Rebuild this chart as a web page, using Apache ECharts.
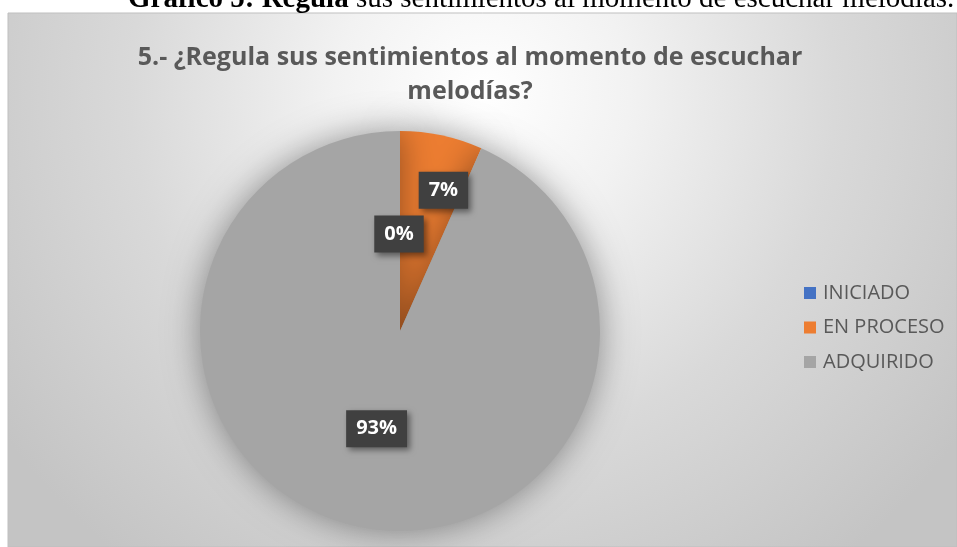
<!DOCTYPE html>
<html>
<head>
<meta charset="utf-8">
<script src="https://cdn.jsdelivr.net/npm/echarts@6/dist/echarts.min.js"></script>
<style>
  html, body { margin: 0; padding: 0; background: #ffffff; }
  #chart { width: 957px; height: 547px; }
</style>
</head>
<body>
<div id="chart"></div>
<script>
// datos del gráfico
const categories = ['INICIADO', 'EN PROCESO', 'ADQUIRIDO']
const counts = [0, 2, 28]
const colors = ['#4472C4', '#ED7D31', '#A5A5A5']

const chartInst = echarts.init(document.getElementById('chart'))

// ajuste fino de las etiquetas para que queden como en Excel
const labelOffsets = [[-1, 6], [22, -40], [-2, -3]]

const pieData = categories.map((name, i) => ({
  name: name,
  value: counts[i],
  itemStyle: { color: colors[i] },
  label: { offset: labelOffsets[i] }
}))

const option = {
  animation: false,
  backgroundColor: '#ffffff',
  graphic: {
    elements: [
      {
        type: 'rect',
        z: -100,
        shape: { x: 8, y: 13, width: 949, height: 534 },
        style: {
          fill: {
            type: 'radial',
            x: 0.5,
            y: 0.15,
            r: 1.1,
            colorStops: [
              { offset: 0, color: '#ffffff' },
              { offset: 0.25, color: '#f2f2f2' },
              { offset: 0.6, color: '#d9d9d9' },
              { offset: 1, color: '#c4c4c4' }
            ]
          },
          stroke: '#bfbfbf',
          lineWidth: 1
        }
      },
      {
        type: 'text',
        z: 10,
        x: 128,
        y: 14,
        style: {
          text: '{b|Gráfico 5: Regula} sus sentimientos al momento de escuchar melodías.',
          font: '29px "Liberation Serif"',
          fill: '#000000',
          verticalAlign: 'bottom',
          rich: {
            b: { fontWeight: 'bold', fontSize: 29, fontFamily: 'Liberation Serif' }
          }
        }
      }
    ]
  },
  title: {
    text: '5.- ¿Regula sus sentimientos al momento de escuchar\nmelodías?',
    left: 465,
    top: 36,
    textAlign: 'center',
    textStyle: {
      fontFamily: 'Open Sans',
      fontWeight: 'bold',
      fontSize: 25,
      lineHeight: 34,
      color: '#595959'
    }
  },
  legend: {
    orient: 'vertical',
    left: 799,
    top: 278,
    icon: 'rect',
    itemWidth: 12,
    itemHeight: 12,
    itemGap: 14.5,
    data: categories,
    textStyle: {
      fontFamily: 'Open Sans',
      fontSize: 20,
      lineHeight: 20,
      color: '#595959',
      padding: [0, 0, 0, 2]
    }
  },
  series: [
    {
      type: 'pie',
      center: [400, 331],
      radius: 200,
      startAngle: 90,
      clockwise: true,
      silent: true,
      percentPrecision: 0,
      itemStyle: {
        shadowBlur: 35,
        shadowColor: 'rgba(0,0,0,0.4)'
      },
      label: {
        show: true,
        position: 'inside',
        formatter: '{d}%',
        color: '#ffffff',
        fontFamily: 'Open Sans',
        fontWeight: 'bold',
        fontSize: 20,
        backgroundColor: '#404040',
        padding: [9, 10, 8, 10],
        shadowBlur: 6,
        shadowOffsetX: 3,
        shadowOffsetY: 3,
        shadowColor: 'rgba(0,0,0,0.45)'
      },
      labelLine: { show: false },
      data: pieData
    }
  ]
}

chartInst.setOption(option)
</script>
</body>
</html>
